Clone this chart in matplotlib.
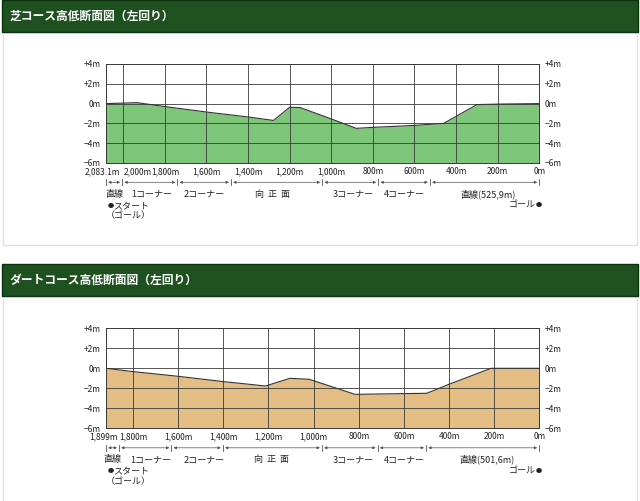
import matplotlib
matplotlib.use("Agg")
import matplotlib.pyplot as plt
from matplotlib.patches import Rectangle
from matplotlib.transforms import blended_transform_factory, ScaledTranslation

plt.rcParams['font.family'] = ['Noto Sans CJK JP', 'DejaVu Sans']

# 芝コース (distance to goal in m, elevation in m)
turf_title = "芝コース高低断面図（左回り）"
turf_start = 2083.1
turf_dist = [2083.1, 2000, 1935, 1800, 1600, 1400, 1278, 1200, 1150, 1000, 880, 800, 600, 460, 300, 200, 0]
turf_elev = [0, 0.05, 0.1, -0.3, -0.85, -1.35, -1.7, -0.37, -0.4, -1.55, -2.5, -2.4, -2.2, -2.0, -0.1, -0.05, 0]
turf_xticks = [2083.1, 2000, 1800, 1600, 1400, 1200, 1000, 800, 600, 400, 200, 0]
turf_xlabels = ["2,083.1m", "2,000m", "1,800m", "1,600m", "1,400m", "1,200m",
                "1,000m", "800m", "600m", "400m", "200m", "0m"]
turf_bounds = [2083.1, 2005, 1740, 1482, 1043, 774, 525.9, 0]
turf_sections = ["直線", "1コーナー", "2コーナー", "向  正  面", "3コーナー", "4コーナー", "直線(525,9m)"]
turf_section_x = [2044, 1862, 1612, 1285, 896, 651, 247]

# ダートコース
dirt_title = "ダートコース高低断面図（左回り）"
dirt_start = 1920
dirt_dist = [1920, 1800, 1600, 1400, 1213, 1105, 1019, 817, 800, 600, 499, 400, 214, 200, 0]
dirt_elev = [0, -0.33, -0.8, -1.33, -1.77, -1.0, -1.1, -2.6, -2.6, -2.53, -2.5, -1.6, 0, 0, 0]
dirt_xticks = [1920, 1800, 1600, 1400, 1200, 1000, 800, 600, 400, 200, 0]
dirt_xlabels = ["1,899m", "1,800m", "1,600m", "1,400m", "1,200m", "1,000m",
                "800m", "600m", "400m", "200m", "0m"]
dirt_bounds = [1920, 1862, 1630, 1402, 963, 716, 501.6, 0]
dirt_sections = ["直線", "1コーナー", "2コーナー", "向  正  面", "3コーナー", "4コーナー", "直線(501,6m)"]
dirt_section_x = [1891, 1721, 1486, 1185, 826, 600, 232]

yticks = [4, 2, 0, -2, -4, -6]
ylabels = ["+4m", "+2m", "0m", "\u22122m", "\u22124m", "\u22126m"]

TXT = '#222222'

fig = plt.figure(figsize=(6.4, 5.01), dpi=100)

# 背景（ヘッダーとパネル）
bg = fig.add_axes([0, 0, 1, 1])
bg.set_xlim(0, 640)
bg.set_ylim(501, 0)
bg.axis('off')
for top, title in [(0, turf_title), (264, dirt_title)]:
    bg.add_patch(Rectangle((3, top + 32), 634, 213, fc='white', ec='#e2e2e2', lw=1))
    bg.add_patch(Rectangle((2, top), 636, 32, fc='#1f5020', ec='#0d330e', lw=1))
    bg.text(10, top + 16, title, color='white', fontsize=8.5, fontweight='bold',
            ha='left', va='center')


def shift(lbl, px):
    lbl.set_transform(lbl.get_transform() + ScaledTranslation(px / 100, 0, fig.dpi_scale_trans))


def draw_profile(ax, start, dist, elev, color, xticks, xlabels, bounds, sections,
                 section_x, first_shift, second_left):
    ax.fill_between(dist, elev, -6, color=color, lw=0, zorder=1)
    ax.plot(dist, elev, color='#333333', lw=0.8, zorder=3)
    ax.set_xlim(start, 0)
    ax.set_ylim(-6, 4)
    ax.set_xticks(xticks)
    ax.set_xticklabels(xlabels)
    ax.set_yticks(yticks)
    ax.set_yticklabels(ylabels)
    ax.set_axisbelow(False)
    ax.grid(True, color='#3a3a3a', lw=0.6)
    for s in ax.spines.values():
        s.set_color('#3a3a3a')
        s.set_linewidth(0.7)
    ax.tick_params(axis='both', length=0, labelsize=6, colors=TXT)
    ax.tick_params(axis='y', labelleft=True, labelright=True, pad=4)
    ax.tick_params(axis='x', pad=3)

    # 端のラベルが重ならないように
    xl = ax.get_xticklabels()
    xl[0].set_ha('right')
    shift(xl[0], first_shift)
    if second_left:
        xl[1].set_ha('left')

    # 区間の矢印
    tr = blended_transform_factory(ax.transData, ax.transAxes)
    yrow = -0.195
    for a, b in zip(bounds[:-1], bounds[1:]):
        ax.annotate('', xy=(b, yrow), xytext=(a, yrow), xycoords=tr, textcoords=tr,
                    arrowprops=dict(arrowstyle='<|-|>', lw=0.5, color='#555555',
                                    mutation_scale=4, shrinkA=1.5, shrinkB=1.5))
    for b in bounds:
        ax.plot([b, b], [yrow - 0.03, yrow + 0.03], transform=tr, color='#555555',
                lw=0.6, clip_on=False)
    for lab, x in zip(sections, section_x):
        ax.text(x, -0.315, lab, transform=tr, ha='center', va='center',
                fontsize=6.5, color=TXT)

    ax.annotate("●", (start, -0.43), xycoords=tr, xytext=(1, 0), textcoords='offset points',
                ha='left', va='center', fontsize=4.5, color=TXT)
    ax.annotate("スタート", (start, -0.43), xycoords=tr, xytext=(5, 0),
                textcoords='offset points', ha='left', va='center', fontsize=6.5, color=TXT)
    ax.text(start, -0.535, "（ゴール）", transform=tr, ha='left', va='center',
            fontsize=6.5, color=TXT)
    ax.annotate("ゴール", (0, -0.425), xycoords=tr, xytext=(-2.5, 0),
                textcoords='offset points', ha='right', va='center', fontsize=6.5, color=TXT)
    ax.annotate("●", (0, -0.425), xycoords=tr, xytext=(2, 0), textcoords='offset points',
                ha='right', va='center', fontsize=4.5, color=TXT)


ax1 = fig.add_axes([106 / 640, 1 - 163 / 501, 433.3 / 640, 99 / 501])
draw_profile(ax1, turf_start, turf_dist, turf_elev, '#7dc67a', turf_xticks, turf_xlabels,
             turf_bounds, turf_sections, turf_section_x, 14, True)

ax2 = fig.add_axes([106 / 640, 1 - 428.3 / 501, 433.3 / 640, 100 / 501])
draw_profile(ax2, dirt_start, dirt_dist, dirt_elev, '#e4bd84', dirt_xticks, dirt_xlabels,
             dirt_bounds, dirt_sections, dirt_section_x, 12, False)

fig.savefig("out.png", dpi=100)
